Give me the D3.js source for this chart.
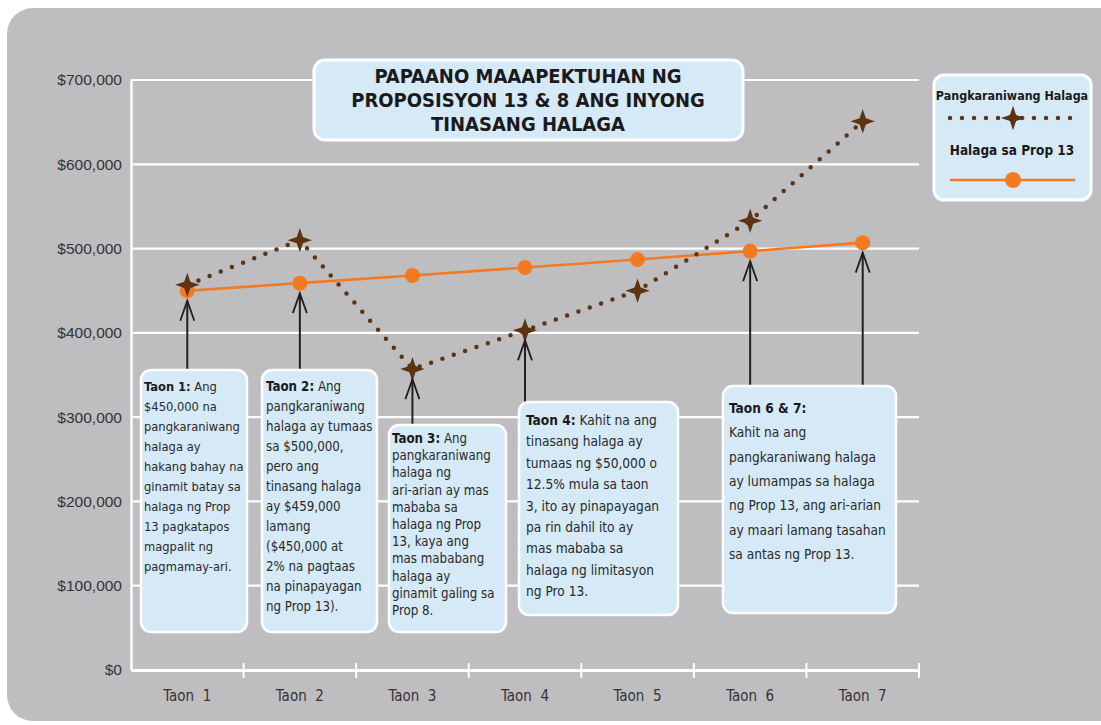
<!DOCTYPE html>
<html>
<head>
<meta charset="utf-8">
<script src="https://cdn.jsdelivr.net/npm/d3@7"></script>
<style>
  html, body { margin: 0; padding: 0; background: #ffffff; }
  svg { display: block; }
</style>
</head>
<body>
<svg id="chart" width="1101" height="725"></svg>
<script>
// ---------------- DATA ----------------
const categories = ["Taon  1", "Taon  2", "Taon  3", "Taon  4", "Taon  5", "Taon  6", "Taon  7"];
const marketValues = [457000, 510000, 357000, 403000, 450000, 533000, 651000];
const prop13Values = [450000, 459000, 468000, 477500, 487000, 497000, 507000];
const yTicks = [0, 100000, 200000, 300000, 400000, 500000, 600000, 700000];
const titleLines = ["PAPAANO MAAAPEKTUHAN NG", "PROPOSISYON 13 & 8 ANG INYONG", "TINASANG HALAGA"];
const legendLabels = ["Pangkaraniwang Halaga", "Halaga sa Prop 13"];

// annotation notes: bold head, then lines; arrow targets (category index)
const notes = [
  { head: "Taon 1:", lines: [" Ang", "$450,000 na", "pangkaraniwang", "halaga ay", "hakang bahay na", "ginamit batay sa", "halaga ng Prop", "13 pagkatapos", "magpalit ng", "pagmamay-ari."], targets: [0] },
  { head: "Taon 2:", lines: [" Ang", "pangkaraniwang", "halaga ay tumaas", "sa $500,000,", "pero ang", "tinasang halaga", "ay $459,000", "lamang", "($450,000 at", "2% na pagtaas", "na pinapayagan", "ng Prop 13)."], targets: [1] },
  { head: "Taon  3:", lines: [" Ang", "pangkaraniwang", "halaga ng", "ari-arian ay mas", "mababa sa", "halaga ng Prop", "13, kaya ang", "mas mababang", "halaga ay", "ginamit galing sa", "Prop 8."], targets: [2] },
  { head: "Taon  4:", lines: [" Kahit na ang", "tinasang halaga ay", "tumaas ng $50,000 o", "12.5% mula sa taon", "3, ito ay pinapayagan", "pa rin dahil ito ay", "mas mababa sa", "halaga ng limitasyon", "ng Pro 13."], targets: [3] },
  { head: "Taon  6 & 7:", lines: ["", "Kahit na ang", "pangkaraniwang halaga", "ay lumampas sa halaga", "ng Prop 13, ang ari-arian", "ay maari lamang tasahan", "sa antas ng Prop 13."], targets: [5, 6] }
];

// ---------------- LAYOUT ----------------
const svg = d3.select("#chart");
const W = 1101, H = 725;
const plot = { left: 131, right: 919, top: 80, bottom: 670 };
const narrow = "'Liberation Sans Narrow', 'DejaVu Sans Condensed', 'Roboto Condensed', 'Arial Narrow', sans-serif";
const regular = "'Liberation Sans', Arial, Helvetica, sans-serif";

const colBg = "#bebec0";
const colBox = "#d5e9f7";
const colOrange = "#f47a22";
const colBrown = "#5d3412";
const colInk = "#231f20";

// background panel (rounded top-left)
svg.append("rect").attr("x", 7).attr("y", 8).attr("width", W + 30).attr("height", 713)
  .attr("rx", 26).attr("fill", colBg);

const x = d3.scaleBand().domain(categories).range([plot.left, plot.right]).padding(0);
const y = d3.scaleLinear().domain([0, 700000]).range([plot.bottom, plot.top]);
const cx = d => x(d) + x.bandwidth() / 2;

// gridlines
svg.append("g").selectAll("line").data(yTicks.filter(d => d > 0)).join("line")
  .attr("x1", plot.left).attr("x2", plot.right)
  .attr("y1", d => y(d)).attr("y2", d => y(d))
  .attr("stroke", "#ffffff").attr("stroke-width", 2.2);

// y axis
const yAxis = d3.axisLeft(y).tickValues(yTicks).tickSize(0).tickPadding(9)
  .tickFormat(d => "$" + d3.format(",")(d));
const gy = svg.append("g").attr("transform", `translate(${plot.left},0)`).call(yAxis);
gy.select(".domain").attr("stroke", "#ffffff").attr("stroke-width", 2.5);
gy.selectAll("text").attr("font-family", regular).attr("font-size", 15.5).attr("fill", "#333333");

// x axis
const xAxis = d3.axisBottom(x).tickSize(0).tickPadding(20);
const gx = svg.append("g").attr("transform", `translate(0,${plot.bottom})`).call(xAxis);
gx.select(".domain").attr("stroke", "#ffffff").attr("stroke-width", 3);
gx.selectAll("text").attr("font-family", narrow).attr("font-size", 15).attr("fill", "#333333")
  .style("white-space", "pre");
// band boundary ticks
const bounds = categories.map(c => x(c) + x.bandwidth());
svg.append("g").selectAll("line").data(bounds).join("line")
  .attr("x1", d => d).attr("x2", d => d)
  .attr("y1", plot.bottom - 7).attr("y2", plot.bottom + 8)
  .attr("stroke", "#ffffff").attr("stroke-width", 2);

// four-point star symbol
const star4 = {
  draw(ctx, size) {
    const R = Math.sqrt(size) / 1.6, r = R * 0.36;
    for (let i = 0; i < 8; i++) {
      const a = -Math.PI / 2 + i * Math.PI / 4;
      const rad = i % 2 === 0 ? R : r;
      const px = rad * Math.cos(a), py = rad * Math.sin(a);
      if (i === 0) ctx.moveTo(px, py); else ctx.lineTo(px, py);
    }
    ctx.closePath();
  }
};

// Prop 13 line
const line = d3.line().x((d, i) => cx(categories[i])).y(d => y(d));
svg.append("path").datum(prop13Values).attr("d", line)
  .attr("fill", "none").attr("stroke", colOrange).attr("stroke-width", 2.6);
svg.append("g").selectAll("circle").data(prop13Values).join("circle")
  .attr("cx", (d, i) => cx(categories[i])).attr("cy", d => y(d)).attr("r", 7.5)
  .attr("fill", colOrange);

// Market line (dotted)
svg.append("path").datum(marketValues).attr("d", line)
  .attr("fill", "none").attr("stroke", colBrown).attr("stroke-width", 4.5)
  .attr("stroke-linecap", "round").attr("stroke-dasharray", "0 12");
svg.append("g").selectAll("path").data(marketValues).join("path")
  .attr("transform", (d, i) => `translate(${cx(categories[i])},${y(d)})`)
  .attr("d", d3.symbol().type(star4).size(380))
  .attr("fill", colBrown);

// annotation boxes
const boxes = [
  { x: 141, y: 370, w: 106, h: 262, lh: 20, fs: 12.8, pad: 3, first: 21 },
  { x: 262, y: 370, w: 115, h: 262, lh: 20, fs: 13.2, pad: 4, first: 21 },
  { x: 389, y: 425, w: 117, h: 207, lh: 17.2, fs: 13.2, pad: 3, first: 18 },
  { x: 519, y: 402, w: 159, h: 213, lh: 21.4, fs: 13.6, pad: 7, first: 23 },
  { x: 723, y: 386, w: 173, h: 227, lh: 24.3, fs: 13.6, pad: 6, first: 27 }
];

const gNotes = svg.append("g");
notes.forEach((n, k) => {
  const b = boxes[k];
  // arrows
  n.targets.forEach(t => {
    const ax = cx(categories[t]);
    const botVal = Math.max(y(marketValues[t]), y(prop13Values[t]));
    const tipY = botVal + 10;
    gNotes.append("line").attr("x1", ax).attr("x2", ax).attr("y1", b.y).attr("y2", tipY)
      .attr("stroke", colInk).attr("stroke-width", 2);
    gNotes.append("path")
      .attr("d", `M${ax - 7},${tipY + 20} L${ax},${tipY} L${ax + 7},${tipY + 20}`)
      .attr("fill", "none").attr("stroke", colInk).attr("stroke-width", 1.8);
  });
  gNotes.append("rect").attr("x", b.x).attr("y", b.y).attr("width", b.w).attr("height", b.h)
    .attr("rx", 10).attr("fill", colBox).attr("stroke", "#ffffff").attr("stroke-width", 2.5);
  const txt = gNotes.append("text").attr("font-family", narrow).attr("font-size", b.fs)
    .attr("fill", "#2a2a2a");
  n.lines.forEach((ln, i) => {
    const ts = txt.append("tspan").attr("x", b.x + b.pad).attr("y", b.y + b.first + i * b.lh);
    if (i === 0) {
      ts.append("tspan").attr("font-weight", "bold").attr("fill", "#1a1a1a").text(n.head);
      ts.append("tspan").style("white-space", "pre").text(ln);
    } else {
      ts.text(ln);
    }
  });
});

// title box
svg.append("rect").attr("x", 314).attr("y", 60).attr("width", 429).attr("height", 80)
  .attr("rx", 11).attr("fill", colBox).attr("stroke", "#ffffff").attr("stroke-width", 3);
svg.append("text").attr("text-anchor", "middle").attr("font-family", narrow)
  .attr("font-weight", "bold").attr("font-size", 20).attr("fill", "#1a1a1a")
  .selectAll("tspan").data(titleLines).join("tspan")
  .attr("x", 528).attr("y", (d, i) => 83 + i * 24).style("white-space", "pre").text(d => d);

// legend
const lg = svg.append("g");
lg.append("rect").attr("x", 934).attr("y", 75).attr("width", 157).attr("height", 125)
  .attr("rx", 10).attr("fill", colBox).attr("stroke", "#ffffff").attr("stroke-width", 3);
lg.append("text").attr("x", 1012).attr("y", 100).attr("text-anchor", "middle")
  .attr("font-family", narrow).attr("font-weight", "bold").attr("font-size", 12.4)
  .attr("fill", "#1a1a1a").text(legendLabels[0]);
lg.append("line").attr("x1", 950).attr("x2", 1074).attr("y1", 118).attr("y2", 118)
  .attr("stroke", colBrown).attr("stroke-width", 4.5).attr("stroke-linecap", "round")
  .attr("stroke-dasharray", "0 12");
lg.append("path").attr("transform", "translate(1013,118)")
  .attr("d", d3.symbol().type(star4).size(380)).attr("fill", colBrown);
lg.append("text").attr("x", 1012).attr("y", 155).attr("text-anchor", "middle")
  .attr("font-family", narrow).attr("font-weight", "bold").attr("font-size", 13.5)
  .attr("fill", "#1a1a1a").text(legendLabels[1]);
lg.append("line").attr("x1", 950).attr("x2", 1075).attr("y1", 180).attr("y2", 180)
  .attr("stroke", colOrange).attr("stroke-width", 2.6);
lg.append("circle").attr("cx", 1013).attr("cy", 180).attr("r", 8).attr("fill", colOrange);
</script>
</body>
</html>
